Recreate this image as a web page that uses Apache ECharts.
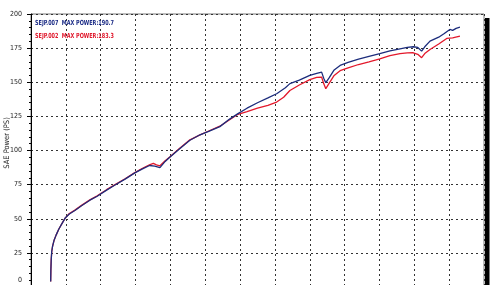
<!DOCTYPE html>
<html><head><meta charset="utf-8">
<script src="https://cdn.jsdelivr.net/npm/echarts@6/dist/echarts.min.js"></script>
<style>html,body{margin:0;padding:0;background:#fff}#c{width:500px;height:285px}</style>
</head><body><div id="c"></div>
<script>
var yTicks = [0, 25, 50, 75, 100, 125, 150, 175, 200];
var yTitle = 'SAE Power (PS)';
var legendBlue = 'SEJP.007  MAX POWER:190.7';
var legendRed = 'SEJP.002  MAX POWER:183.3';
var seriesBlue = [[0.565,4],[0.57,12],[0.58,20],[0.595,26],[0.62,30],[0.66,34],[0.72,38],[0.8,42.5],[0.9,47],[0.98,50.5],[1.1,53.5],[1.26,56],[1.45,59.5],[1.69,63.6],[1.9,66.5],[2.17,71],[2.4,74.5],[2.7,79],[2.98,83.6],[3.2,86.5],[3.4,89],[3.55,88.5],[3.7,87.5],[3.85,92],[3.99,95.3],[4.25,101],[4.56,107.5],[4.85,111.5],[5.1,114],[5.42,117.5],[5.7,123],[5.94,127],[6.2,131],[6.5,135],[6.8,138.5],[7.05,141.6],[7.3,146],[7.43,149],[7.7,151.5],[8.0,155],[8.2,156.5],[8.34,157.4],[8.4,153],[8.46,149.7],[8.55,153],[8.7,159],[8.87,162.3],[9.1,164.5],[9.4,167],[9.7,169],[10.01,170.9],[10.3,173],[10.59,174.5],[10.8,175.5],[10.97,176],[11.1,175.5],[11.21,172.8],[11.3,176],[11.45,180.1],[11.7,183],[11.85,185.5],[12.02,188.7],[12.1,188],[12.2,189.5],[12.31,190.3]];
var seriesRed = [[0.565,4],[0.57,12],[0.58,20],[0.595,26],[0.62,30],[0.66,34],[0.72,38],[0.8,42.5],[0.9,47],[0.98,50.5],[1.1,53.8],[1.26,56.3],[1.45,59.8],[1.69,63.8],[1.9,66.8],[2.17,71.3],[2.4,74.8],[2.7,79.3],[2.98,83.8],[3.2,87],[3.4,89.5],[3.51,90.5],[3.6,89.5],[3.7,88.8],[3.85,92.5],[3.99,95.5],[4.25,101.3],[4.56,107.8],[4.85,111.5],[5.1,114.3],[5.42,117.8],[5.7,122.5],[5.94,126.5],[6.2,128.5],[6.5,131],[6.8,133],[7.05,135.5],[7.25,139],[7.43,144],[7.7,148],[8.0,151.9],[8.2,153.5],[8.34,153.8],[8.4,149],[8.46,145.3],[8.55,149],[8.7,155],[8.87,158.5],[9.1,160.5],[9.4,163],[9.7,165],[10.01,167.2],[10.3,169.5],[10.59,170.9],[10.8,171.5],[10.97,171.6],[11.1,170.5],[11.21,168],[11.3,171],[11.45,174],[11.7,178],[11.93,182.1],[12.1,182.5],[12.31,183.8]];

var chart = echarts.init(document.getElementById('c'), null, {renderer:'canvas'});
var dotted = {color:'#333', type:[2,3], width:1};
var narrow = '"DejaVu Sans Condensed", "Liberation Sans Narrow", "DejaVu Sans", sans-serif';
chart.setOption({
  animation:false,
  backgroundColor:'#fff',
  grid:{left:31, top:14, width:453, height:273, outerBoundsMode:'none', containLabel:false,
    show:true, borderColor:'#777', borderWidth:1},
  xAxis:{type:'value', min:0, max:13, interval:1,
    axisLine:{show:false}, axisTick:{show:false}, axisLabel:{show:false},
    splitLine:{show:true, lineStyle:dotted}},
  yAxis:{type:'value', min:yTicks[0], max:yTicks[yTicks.length-1], interval:25,
    name:yTitle, nameLocation:'middle', nameRotate:90, nameGap:20, nameMoveOverlap:false,
    nameTextStyle:{fontSize:7.5, color:'#222', fontFamily:narrow, padding:[0,0,0,15]},
    axisLine:{show:true, lineStyle:{color:'#000', width:1}},
    axisTick:{show:true, length:4, lineStyle:{color:'#000'}},
    minorTick:{show:true, splitNumber:5, length:2, lineStyle:{color:'#000'}},
    axisLabel:{margin:9, fontSize:7, color:'#222', fontFamily:narrow,
      formatter:function(v){ return v===0 ? '{z|0}' : String(v); },
      rich:{z:{fontSize:7, color:'#222', fontFamily:narrow, padding:[0,0,14,0]}}},
    splitLine:{show:true, lineStyle:dotted}},
  graphic:[
    {type:'rect', shape:{x:485, y:18, width:4.5, height:270}, style:{fill:'#000'}, z:100},
    {type:'text', x:35, y:19.5, scaleX:0.78, style:{text:legendBlue, fill:'#1c2c86', font:'bold 7px ' + narrow}, z:100},
    {type:'text', x:35, y:32.5, scaleX:0.78, style:{text:legendRed, fill:'#e0182c', font:'bold 7px ' + narrow}, z:100}
  ],
  series:[
    {type:'line', data:seriesBlue, showSymbol:false, lineStyle:{color:'#1c2c7c', width:1.3}, z:3},
    {type:'line', data:seriesRed, showSymbol:false, lineStyle:{color:'#e3182b', width:1.3}, z:2}
  ]
});
</script></body></html>
